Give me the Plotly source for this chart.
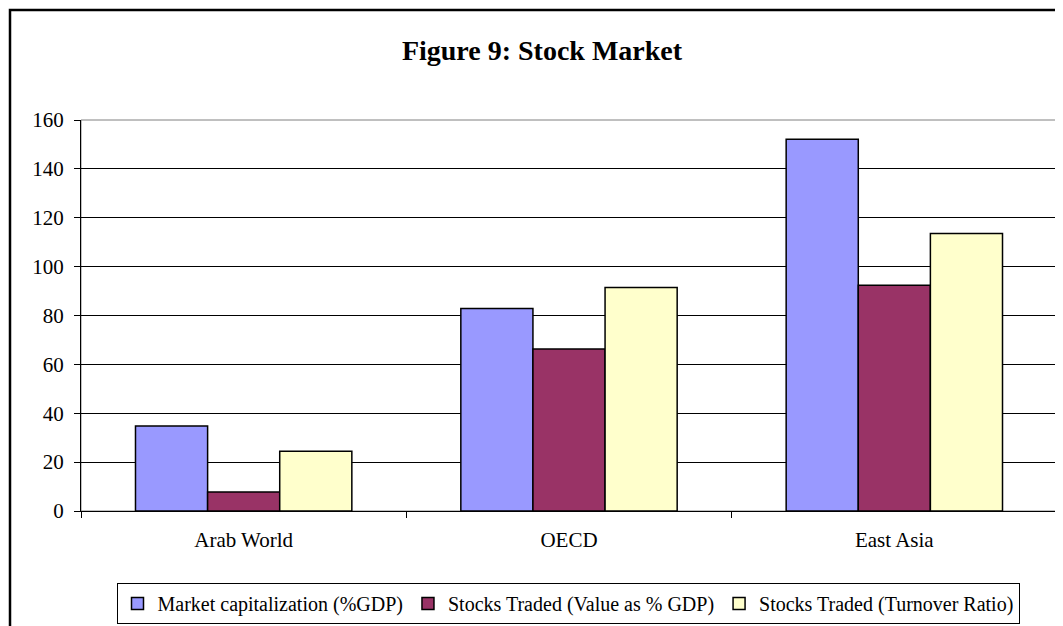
import plotly.graph_objects as go

categories = ["Arab World", "OECD", "East Asia"]
market_cap = [34.8, 82.9, 152.1]
traded_value = [7.8, 66.3, 92.4]
turnover = [24.5, 91.5, 113.6]
series_names = ["Market capitalization (%GDP)", "Stocks Traded (Value as % GDP)", "Stocks Traded (Turnover Ratio)"]
colors = ["#9999FF", "#993366", "#FFFFCC"]
y_ticks = [0, 20, 40, 60, 80, 100, 120, 140, 160]

FONT = "Liberation Serif, Times New Roman, serif"

fig = go.Figure()
for name, vals, col in zip(series_names, [market_cap, traded_value, turnover], colors):
    fig.add_trace(go.Bar(
        x=categories, y=vals, name=name,
        marker=dict(color=col, line=dict(color="black", width=1.5)),
    ))

# page body has an 8px margin; work in screen coords and shift
OFF = 8
W, H = 1063 - OFF, 626 - OFF
L, T = 81 - OFF, 120 - OFF
R = W - (1057 - OFF)
B = H - (511 - OFF)
pw, ph = W - L - R, H - T - B

def px_x(x):
    return (x - OFF - L) / pw

def px_y(y):
    return (H - B - (y - OFF)) / ph

fig.update_layout(
    width=W, height=H,
    margin=dict(l=L, r=R, t=T, b=B, autoexpand=False),
    paper_bgcolor="white", plot_bgcolor="white",
    barmode="group", bargap=0.335, bargroupgap=0,
    font=dict(family=FONT, size=20, color="black"),
    title=dict(text="<b>Figure 9: Stock Market</b>", x=(542 - OFF) / W, xanchor="center",
               y=1 - (50 - OFF) / H, yanchor="middle", xref="container", yref="container",
               font=dict(family=FONT, size=28, color="black")),
    showlegend=True,
    legend=dict(orientation="h", x=(568 - OFF) / W, xanchor="center", xref="container",
                y=1 - (583 - OFF) / H, yanchor="top", yref="container",
                bordercolor="black", borderwidth=1, bgcolor="white",
                font=dict(family=FONT, size=20, color="black"),
                itemwidth=30, tracegroupgap=0),
    xaxis=dict(showline=True, linecolor="black", linewidth=1, ticks="outside",
               tickson="boundaries", ticklen=6, tickcolor="black",
               mirror=False, showgrid=False, ticklabelstandoff=10,
               tickfont=dict(family=FONT, size=21)),
    yaxis=dict(range=[0, 160], tickvals=y_ticks, showline=True, linecolor="black",
               linewidth=1, ticks="outside", ticklen=6, tickcolor="black",
               showgrid=True, gridcolor="black", gridwidth=1, zeroline=False,
               ticklabelstandoff=6,
               tickfont=dict(family=FONT, size=21)),
    shapes=[
        dict(type="rect", xref="paper", yref="paper", x0=0, x1=1, y0=0, y1=1,
             line=dict(color="#808080", width=1), layer="below"),
        dict(type="rect", xref="paper", yref="paper", x0=px_x(10), x1=px_x(1075),
             y0=px_y(640), y1=px_y(10), line=dict(color="black", width=2.5)),
    ],
)

fig.write_html("out.html")
